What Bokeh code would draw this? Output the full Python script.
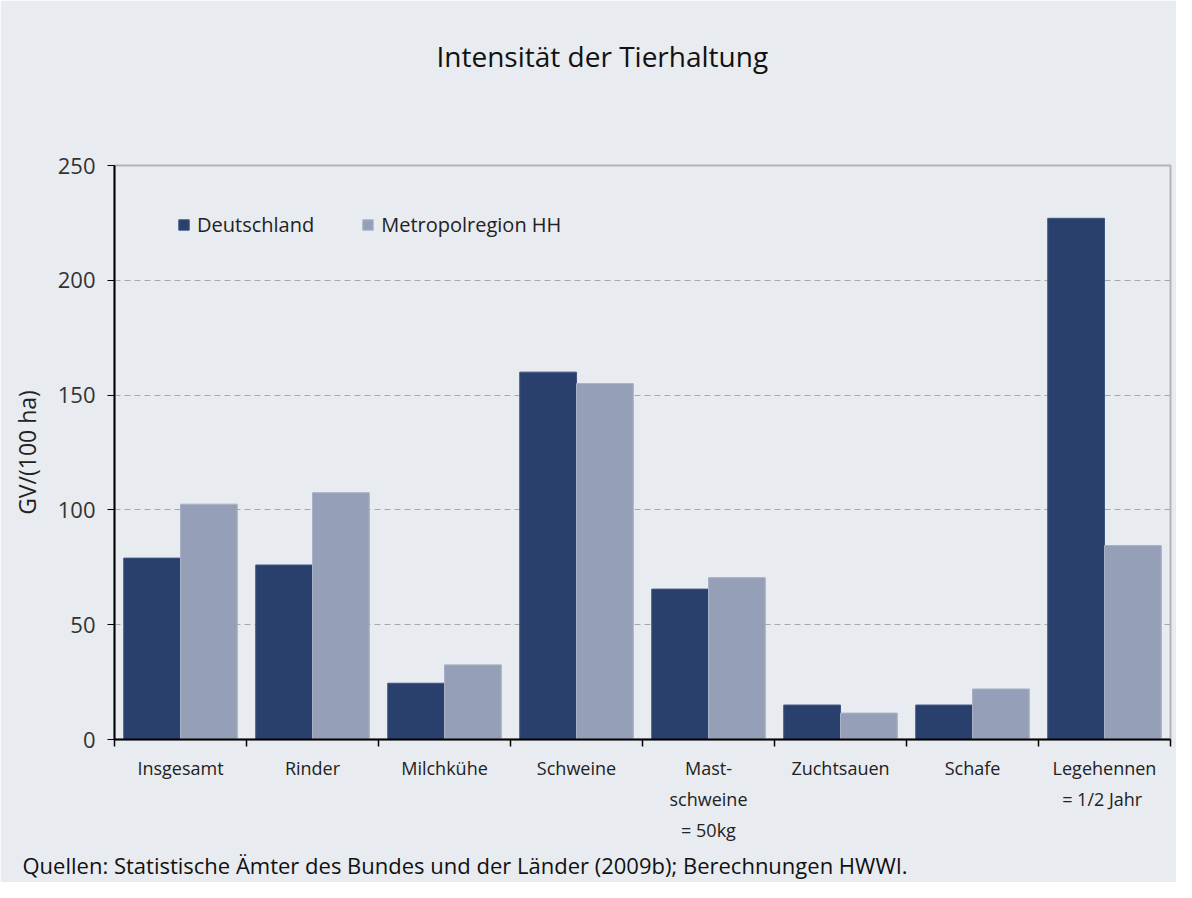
from bokeh.plotting import figure
from bokeh.models import ColumnDataSource, FixedTicker, Range1d, Title, Legend, LegendItem
from bokeh.transform import dodge
from bokeh.embed import file_html
from bokeh.resources import INLINE

# ---- data ----
categories = ["Insgesamt", "Rinder", "Milchkühe", "Schweine",
              "Mast-\nschweine\n= 50kg", "Zuchtsauen", "Schafe",
              "Legehennen\n=  1/2 Jahr"]
deutschland = [79, 76, 24.5, 160, 65.5, 15, 15, 227]
metropolregion = [102.5, 107.5, 32.5, 155, 70.5, 11.5, 22, 84.5]
y_ticks = [0, 50, 100, 150, 200, 250]
title_text = "Intensität der Tierhaltung"
y_label = "GV/(100 ha)"
source_text = "Quellen: Statistische Ämter des Bundes und der Länder (2009b); Berechnungen HWWI."

BG = "#E8EBF0"
DARK = "#29406D"
LIGHT = "#95A0B8"
FONT = "Open Sans"

n = len(categories)
centers = [i + 0.5 for i in range(n)]
src = ColumnDataSource(dict(x=centers, de=deutschland, hh=metropolregion))

p = figure(width=1176, height=882, output_backend="svg", toolbar_location=None,
           x_range=Range1d(0, n), y_range=Range1d(0, 250),
           background_fill_color=BG, border_fill_color=BG,
           min_border_left=114, min_border_right=6, min_border_top=165,
           min_border_bottom=143)

r1 = p.vbar(x=dodge("x", -0.215), top="de", width=0.43, source=src,
            fill_color=DARK, line_color="#3E5582", line_width=1)
r2 = p.vbar(x=dodge("x", 0.215), top="hh", width=0.43, source=src,
            fill_color=LIGHT, line_color="#A7B1C5", line_width=1)

# outline
p.outline_line_color = "#B4B4B4"
p.outline_line_width = 2

# grid
p.xgrid.visible = False
p.ygrid.ticker = FixedTicker(ticks=y_ticks)
p.ygrid.grid_line_color = "#A8A8A8"
p.ygrid.grid_line_dash = "6 4"
p.ygrid.grid_line_width = 1

# y axis
p.yaxis.ticker = FixedTicker(ticks=y_ticks)
p.yaxis.axis_line_color = "black"
p.yaxis.axis_line_width = 2
p.yaxis.major_tick_out = 7
p.yaxis.major_tick_in = 0
p.yaxis.major_tick_line_color = "black"
p.yaxis.minor_tick_line_color = None
p.yaxis.major_label_text_font = FONT
p.yaxis.major_label_text_font_size = "22px"
p.yaxis.major_label_text_color = "#333333"
p.yaxis.major_label_standoff = 12
p.yaxis.axis_label = y_label
p.yaxis.axis_label_text_font = FONT
p.yaxis.axis_label_text_font_size = "23px"
p.yaxis.axis_label_text_font_style = "normal"
p.yaxis.axis_label_text_color = "#222222"
p.yaxis.axis_label_standoff = 12

# x axis
p.xaxis.ticker = FixedTicker(ticks=centers, minor_ticks=list(range(n + 1)))
p.xaxis.major_label_overrides = {c: lab for c, lab in zip(centers, categories)}
p.xaxis.axis_line_color = "black"
p.xaxis.axis_line_width = 2
p.xaxis.major_tick_out = 0
p.xaxis.major_tick_in = 0
p.xaxis.minor_tick_out = 7
p.xaxis.minor_tick_in = 0
p.xaxis.minor_tick_line_color = "black"
p.xaxis.minor_tick_line_width = 1.5
p.xaxis.major_label_text_font = FONT
p.xaxis.major_label_text_font_size = "18px"
p.xaxis.major_label_text_color = "#222222"
p.xaxis.major_label_text_line_height = 1.3
p.xaxis.major_label_standoff = 9

# title: a spacer panel between frame and title text
p.title.text = ""
p.add_layout(Title(text=" ", text_font_size="10px", standoff=78), "above")
p.add_layout(Title(text=title_text, align="left", offset=322, standoff=0,
                   text_font=FONT, text_font_size="28px", text_font_style="normal",
                   text_color="#111111"), "above")

# legend
legend = Legend(items=[LegendItem(label="Deutschland", renderers=[r1]),
                       LegendItem(label="Metropolregion HH", renderers=[r2])],
                location=(63, 501), orientation="horizontal",
                glyph_width=13, glyph_height=13, label_standoff=7, spacing=47,
                padding=0, margin=0,
                background_fill_alpha=0, border_line_alpha=0,
                label_text_font=FONT, label_text_font_size="20px",
                label_text_color="#222222")
p.add_layout(legend, "center")

# source note
p.add_layout(Title(text=source_text, align="left", offset=-92, standoff=6,
                   text_font=FONT, text_font_size="22px", text_font_style="normal",
                   text_color="#111111"), "below")

open("out.html", "w").write(file_html(p, INLINE))
